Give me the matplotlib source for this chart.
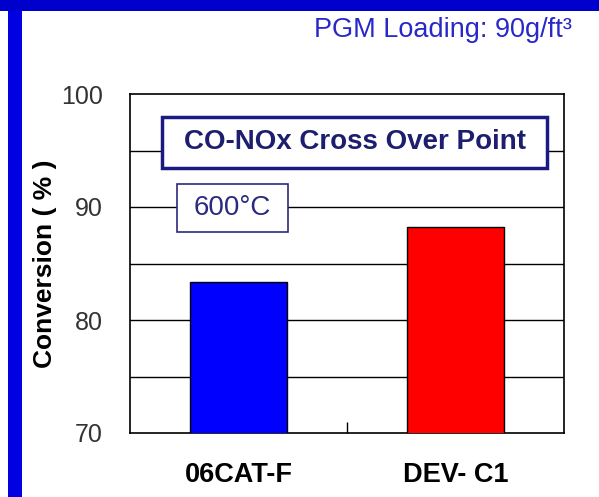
import matplotlib
matplotlib.use("Agg")
import matplotlib.pyplot as plt
from matplotlib.patches import Rectangle

plt.rcParams['font.family'] = ['Liberation Sans', 'DejaVu Sans']

# data
catalysts = ['06CAT-F', 'DEV- C1']
conversion = [83.4, 88.2]
bar_colors = ['#0000FF', '#FF0000']
yticks = [70, 80, 90, 100]
grid_levels = [75, 80, 85, 90, 95]

W, H = 599, 497
fig = plt.figure(figsize=(W / 100, H / 100), dpi=100)

# blue frame on top and left
fig.patches.append(Rectangle((0, 1 - 11 / H), 1, 11 / H, transform=fig.transFigure,
                             facecolor='#0000CC', edgecolor='none'))
fig.patches.append(Rectangle((8 / W, 0), 14 / W, 1 - 11 / H, transform=fig.transFigure,
                             facecolor='#0000E0', edgecolor='none'))

ax = fig.add_axes([130 / W, 64 / H, 434 / W, 339 / H])
x = list(range(len(catalysts)))
ax.bar(x, conversion, width=0.45, color=bar_colors, edgecolor='black', linewidth=1, zorder=3)

ax.set_xlim(-0.5, len(catalysts) - 0.5)
ax.set_ylim(70, 100)
for g in grid_levels:
    ax.axhline(g, color='black', linewidth=1, zorder=1)

ax.set_yticks(yticks)
ax.tick_params(axis='y', length=0, pad=19.5, labelsize=18, labelcolor='#333333')
ax.set_xticks(x)
ax.set_xticklabels(catalysts, fontsize=19.5, fontweight='bold')
ax.tick_params(axis='x', length=0, pad=21)
ax.set_xticks([0.5], minor=True)
ax.tick_params(axis='x', which='minor', direction='in', length=8, width=1)
for s in ax.spines.values():
    s.set_linewidth(1.2)

ax.set_ylabel('Conversion ( % )', fontsize=19, fontweight='bold', labelpad=3)

# annotation boxes
ax.add_patch(Rectangle((0.074, 0.782), 0.887, 0.150, transform=ax.transAxes,
                       facecolor='white', edgecolor='#1A1A80', linewidth=2.5, zorder=4))
ax.text(0.5175, 0.857, 'CO-NOx Cross Over Point', transform=ax.transAxes, ha='center',
        va='center', fontsize=20, fontweight='bold', color='#1E1E6E', zorder=5)
ax.add_patch(Rectangle((0.108, 0.593), 0.256, 0.142, transform=ax.transAxes,
                       facecolor='white', edgecolor='#2A2A80', linewidth=1.2, zorder=4))
ax.text(0.236, 0.664, '600°C', transform=ax.transAxes, ha='center', va='center',
        fontsize=20, color='#2A2A80', zorder=5)

fig.text(572 / W, 1 - 37 / H, 'PGM Loading: 90g/ft³', ha='right', va='baseline',
         fontsize=19.5, color='#2828C8')

fig.savefig('out.png', dpi=100)
